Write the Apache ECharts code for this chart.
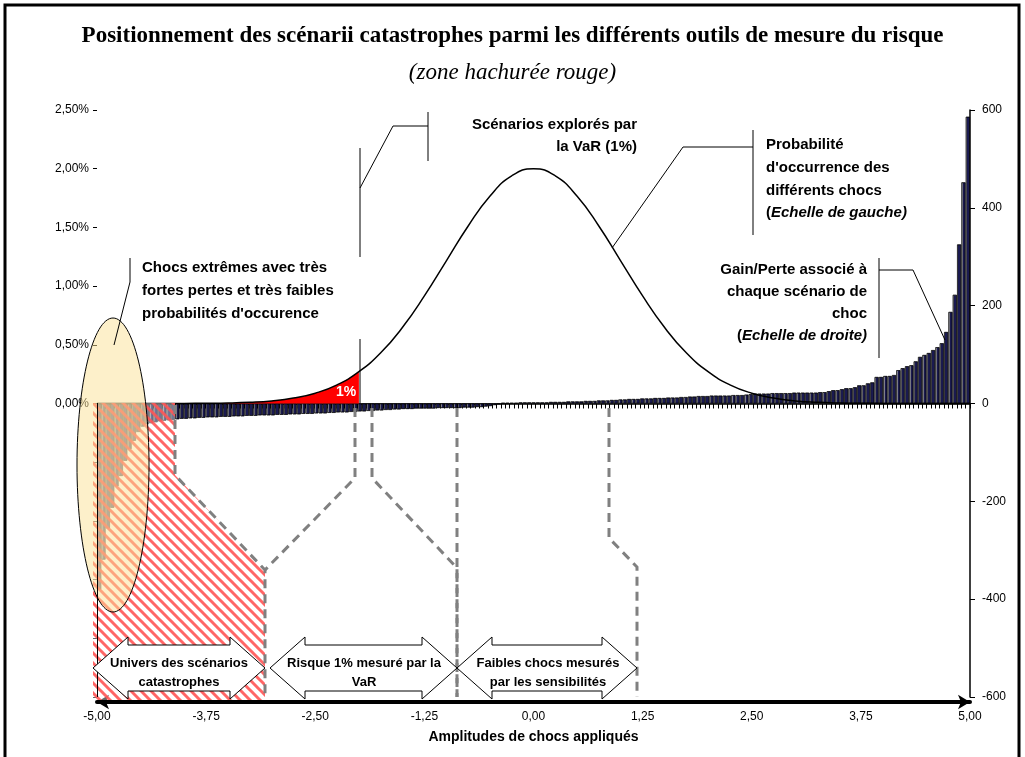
<!DOCTYPE html>
<html lang="fr">
<head>
<meta charset="UTF-8">
<title>Scénarii catastrophes</title>
<script src="https://cdn.jsdelivr.net/npm/echarts@6/dist/echarts.min.js"></script>
<style>
  html, body { margin: 0; padding: 0; background: #fff; }
  #ec { width: 1025px; height: 757px; }
</style>
</head>
<body>
<div id="ec"></div>
<script>
// gain / perte par scenario de choc (echelle de droite), chocs de -5 a +5 par pas de 0,05
var gainLoss = [
  -380, -319, -255, -213, -169, -148, -117, -93, -76, -58,
  -47, -42, -40, -38, -36, -35, -34, -33, -32, -31,
  -31, -30, -30, -29, -29, -28, -28, -28, -27, -27,
  -27, -26, -26, -26, -25, -25, -25, -24, -24, -24,
  -24, -23, -23, -23, -22, -22, -22, -21, -21, -21,
  -20, -20, -20, -19, -19, -18, -18, -18, -17, -17,
  -16, -16, -15, -15, -14, -14, -13, -13, -12, -12,
  -11, -11, -11, -10, -10, -10, -10, -10, -9, -9,
  -9, -9, -9, -9, -8, -8, -8, -7, -7, -6,
  -5, -3, -1, 1, 1, 1, 1, 2, 2, 2,
  2, 2, 2, 2, 3, 3, 3, 3, 4, 4,
  4, 4, 5, 5, 5, 6, 6, 6, 7, 7,
  8, 8, 9, 9, 9, 10, 10, 10, 11, 11,
  11, 12, 12, 12, 13, 13, 14, 14, 15, 15,
  15, 16, 16, 16, 16, 16, 17, 17, 17, 18,
  19, 20, 20, 20, 20, 21, 21, 21, 21, 21,
  22, 22, 22, 22, 22, 22, 23, 23, 25, 27,
  27, 29, 31, 31, 33, 37, 37, 41, 43, 54,
  54, 56, 56, 58, 68, 72, 76, 78, 86, 95,
  99, 103, 109, 115, 123, 146, 187, 222, 325, 452,
  586
];

// probabilite d'occurrence (echelle de gauche, en %)
var curveX = [-5, -4.75, -4.5, -4.25, -4, -3.75, -3.5, -3.25, -3, -2.75, -2.5, -2.25, -2,
  -1.75, -1.5, -1.25, -1, -0.75, -0.5, -0.25, 0, 0.25, 0.5, 0.75, 1, 1.25, 1.5, 1.75,
  2, 2.25, 2.5, 2.75, 3, 3.25, 3.5, 3.75, 4, 4.25, 4.5, 4.75, 5];
var curveY = [0, 0, 0, 0, 0.001, 0.002, 0.004, 0.010, 0.022, 0.046, 0.088, 0.159, 0.271,
  0.432, 0.649, 0.916, 1.213, 1.510, 1.765, 1.939, 2.0, 1.939, 1.765, 1.510, 1.213, 0.916, 0.649, 0.432,
  0.271, 0.159, 0.088, 0.046, 0.022, 0.010, 0.004, 0.002, 0.001, 0, 0, 0, 0];
var varLimit = -2; // seuil 1%

var shockCategories = [];
for (var i = 0; i < gainLoss.length; i++) shockCategories.push((-5 + i * 0.05).toFixed(2));

var curveData = curveX.map(function (x, k) { return [x, curveY[k]]; });
var tailData = curveData.filter(function (p) { return p[0] <= varLimit; });

function frNum(v) { return v.toFixed(2).replace('.', ','); }

var FONT = 'Liberation Sans, Arial, sans-serif';
var SERIF = 'Liberation Serif, Times New Roman, serif';
var ech = document.getElementById('ec');
var mychart = echarts.init(ech);

var options = {
  animation: false,
  backgroundColor: '#fff',
  textStyle: { fontFamily: FONT },
  title: [{
    text: 'Positionnement des scénarii catastrophes parmi les différents outils de mesure du risque',
    left: 'center', top: 20,
    textStyle: { fontFamily: SERIF, fontWeight: 'bold', fontSize: 23, color: '#000' }
  }, {
    text: '(zone hachurée rouge)',
    left: 'center', top: 56,
    textStyle: { fontFamily: SERIF, fontStyle: 'italic', fontWeight: 'normal', fontSize: 23, color: '#000' }
  }],
  grid: { left: 97, right: 55, top: 110, bottom: 60 },
  xAxis: [{
    type: 'category',
    data: shockCategories,
    position: 'top',
    axisLine: { onZero: true, lineStyle: { color: '#000', width: 1.5 } },
    axisTick: { show: true, inside: true, interval: 0, length: 5, lineStyle: { color: '#000' } },
    axisLabel: { show: false },
    splitLine: { show: false }
  }, {
    type: 'value',
    min: -5, max: 5, interval: 1.25,
    position: 'bottom',
    offset: 5,
    axisLine: { show: true, onZero: false, symbol: ['arrow', 'arrow'], symbolSize: [11, 12], lineStyle: { color: '#000', width: 4 } },
    axisTick: { show: false },
    splitLine: { show: false },
    axisLabel: { color: '#000', fontSize: 12, margin: 9, formatter: frNum },
    name: 'Amplitudes de chocs appliqués',
    nameLocation: 'middle',
    nameGap: 28,
    nameTextStyle: { fontWeight: 'bold', fontSize: 14, color: '#000' }
  }],
  yAxis: [{
    type: 'value',
    min: -2.5, max: 2.5, interval: 0.5,
    position: 'left',
    axisLine: { show: false, onZero: false },
    axisTick: { show: true, length: 4, lineStyle: { color: '#000' } },
    axisLabel: { color: '#000', fontSize: 12, margin: 8,
      formatter: function (v) { return v >= 0 ? frNum(v) + '%' : ''; } },
    splitLine: { show: false }
  }, {
    type: 'value',
    min: -600, max: 600, interval: 200,
    position: 'right',
    axisLine: { show: true, onZero: false, lineStyle: { color: '#000', width: 1.5 } },
    axisTick: { show: true, length: 5, lineStyle: { color: '#000' } },
    axisLabel: { color: '#000', fontSize: 12, margin: 12 },
    splitLine: { show: false }
  }],
  series: [{
    name: 'Gain/Perte',
    type: 'bar',
    xAxisIndex: 0, yAxisIndex: 1,
    data: gainLoss,
    barCategoryGap: '10%',
    itemStyle: {
      color: { type: 'linear', x: 0, y: 0, x2: 1, y2: 0, colorStops: [
        { offset: 0, color: '#8e8e9a' }, { offset: 0.3, color: '#8e8e9a' },
        { offset: 0.3, color: '#1a1a50' }, { offset: 1, color: '#1a1a50' }] },
      borderColor: '#000', borderWidth: 0.5
    }
  }, {
    name: 'Queue 1%',
    type: 'line',
    xAxisIndex: 1, yAxisIndex: 0,
    data: tailData,
    smooth: true,
    symbol: 'none',
    lineStyle: { width: 0 },
    areaStyle: { color: '#ff0000', opacity: 1 },
    z: 3
  }, {
    name: 'Probabilité',
    type: 'line',
    xAxisIndex: 1, yAxisIndex: 0,
    data: curveData,
    smooth: true,
    symbol: 'none',
    lineStyle: { color: '#000', width: 1.5 },
    z: 4
  }]
};
mychart.setOption(options);

// ---- annotations ----
function hatch() {
  var c = document.createElement('canvas');
  c.width = 10; c.height = 10;
  var g = c.getContext('2d');
  g.fillStyle = 'rgba(255,255,255,0.4)';
  g.fillRect(0, 0, 10, 10);
  g.strokeStyle = 'rgba(255,85,85,0.9)';
  g.lineWidth = 3;
  for (var k = -1; k <= 1; k++) {
    g.beginPath(); g.moveTo(k * 10 - 2, -2); g.lineTo(k * 10 + 12, 12); g.stroke();
  }
  return c;
}

function dashed(pts) {
  return { type: 'polyline', z: 20, shape: { points: pts },
    style: { fill: null, stroke: '#808080', lineWidth: 3, lineDash: [9, 6] } };
}
function thin(pts) {
  return { type: 'polyline', z: 30, shape: { points: pts },
    style: { fill: null, stroke: '#000', lineWidth: 1 } };
}
function txt(t, x, y, align, extra) {
  var s = { text: t, x: x, y: y, textAlign: align, textVerticalAlign: 'middle',
    fontFamily: FONT, fontWeight: 'bold', fontSize: 15, fill: '#000' };
  if (extra) for (var k in extra) s[k] = extra[k];
  return { type: 'text', z: 40, style: s };
}
function dblArrow(xa, xb, yc) {
  var h = 35, bh = 23, hh = 31;
  return { type: 'polygon', z: 35, shape: { points: [
    [xa, yc], [xa + h, yc - hh], [xa + h, yc - bh], [xb - h, yc - bh], [xb - h, yc - hh],
    [xb, yc], [xb - h, yc + hh], [xb - h, yc + bh], [xa + h, yc + bh], [xa + h, yc + hh]] },
    style: { fill: '#fff', stroke: '#000', lineWidth: 1 } };
}
var ital = { i: { fontStyle: 'italic', fontWeight: 'bold', fontSize: 15, fontFamily: FONT } };

mychart.setOption({
  graphic: [
    { type: 'rect', z: 50, shape: { x: 5, y: 5, width: 1014, height: 800 },
      style: { fill: null, stroke: '#000', lineWidth: 3 } },
    // axe gauche sous zero
    thin([[97.5, 403], [97.5, 697]]),
    // zone hachuree
    { type: 'polygon', z: 15, shape: { points: [[93, 403], [175, 403], [175, 475], [265, 570], [265, 700], [93, 700]] },
      style: { fill: { image: hatch(), repeat: 'repeat' }, stroke: null } },
    dashed([[175, 405], [175, 475], [265, 570], [265, 697]]),
    dashed([[355, 408], [355, 478], [265, 570]]),
    dashed([[372, 408], [372, 478], [457, 568], [457, 697]]),
    dashed([[457, 408], [457, 697]]),
    dashed([[609, 408], [609, 538], [637, 567], [637, 697]]),
    // ellipse
    { type: 'ellipse', z: 25, shape: { cx: 113, cy: 465, rx: 36, ry: 147 },
      style: { fill: 'rgba(252,226,150,0.5)', stroke: '#000', lineWidth: 1 } },
    // seuil VaR
    thin([[360, 148], [360, 403]]),
    { type: 'rect', z: 32, shape: { x: 134, y: 257, width: 230, height: 82 }, style: { fill: '#fff' } },
    txt('1%', 346, 392, 'center', { fill: '#fff', fontSize: 14 }),
    // legendes
    thin([[428, 112], [428, 161]]), thin([[428, 126], [393, 126], [360, 188]]),
    txt('Scénarios explorés par', 637, 125, 'right'),
    txt('la VaR (1%)', 637, 147, 'right'),
    thin([[753, 130], [753, 235]]), thin([[753, 147], [683, 147], [612, 248]]),
    txt('Probabilité', 766, 145, 'left'),
    txt("d'occurrence des", 766, 168, 'left'),
    txt('différents chocs', 766, 191, 'left'),
    txt('({i|Echelle de gauche)}', 766, 213, 'left', { rich: ital }),
    thin([[879, 258], [879, 358]]), thin([[879, 270], [913, 270], [945, 340]]),
    txt('Gain/Perte associé à', 867, 270, 'right'),
    txt('chaque scénario de', 867, 292, 'right'),
    txt('choc', 867, 314, 'right'),
    txt('({i|Echelle de droite)}', 867, 336, 'right', { rich: ital }),
    thin([[130, 258], [130, 282], [114, 345]]),
    txt('Chocs extrêmes avec très', 142, 268, 'left'),
    txt('fortes pertes et très faibles', 142, 291, 'left'),
    txt("probabilités d'occurence", 142, 314, 'left'),
    // fleches
    dblArrow(93, 265, 668), dblArrow(270, 457, 668), dblArrow(457, 637, 668),
    txt('Univers des scénarios', 179, 663, 'center', { fontSize: 13 }),
    txt('catastrophes', 179, 682, 'center', { fontSize: 13 }),
    txt('Risque 1% mesuré par la', 364, 663, 'center', { fontSize: 13 }),
    txt('VaR', 364, 682, 'center', { fontSize: 13 }),
    txt('Faibles chocs mesurés', 548, 663, 'center', { fontSize: 13 }),
    txt('par les sensibilités', 548, 682, 'center', { fontSize: 13 })
  ]
});
</script>
</body>
</html>
